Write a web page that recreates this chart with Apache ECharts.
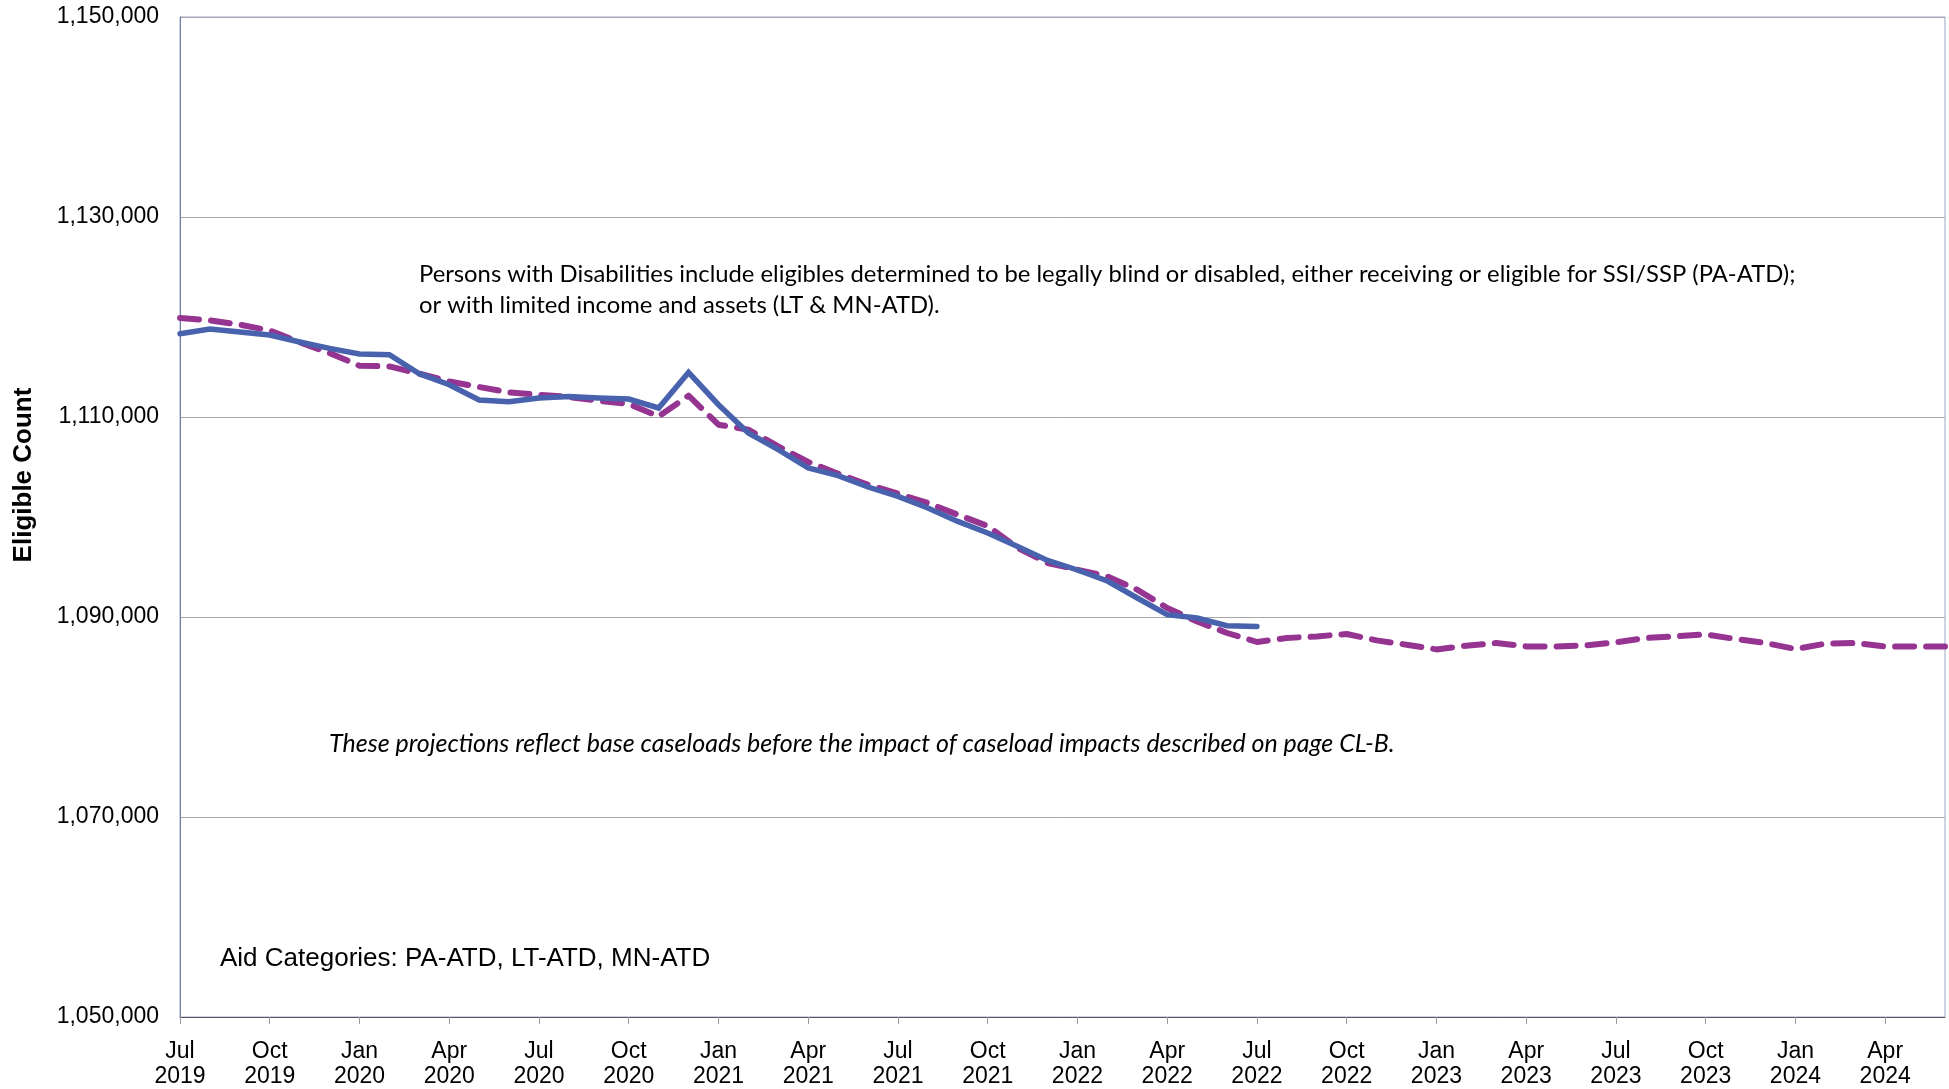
<!DOCTYPE html>
<html>
<head>
<meta charset="utf-8">
<title>Persons with Disabilities - Eligible Count</title>
<script src="https://cdn.jsdelivr.net/npm/echarts@6/dist/echarts.min.js"></script>
<style>
  html, body { margin: 0; padding: 0; background: #ffffff; }
  #chart { width: 1949px; height: 1089px; }
</style>
</head>
<body>
<div id="chart"></div>
<script>
// Monthly categories, Jul 2019 through Jun 2024
const months = [
  'Jul 2019','Aug 2019','Sep 2019','Oct 2019','Nov 2019','Dec 2019',
  'Jan 2020','Feb 2020','Mar 2020','Apr 2020','May 2020','Jun 2020',
  'Jul 2020','Aug 2020','Sep 2020','Oct 2020','Nov 2020','Dec 2020',
  'Jan 2021','Feb 2021','Mar 2021','Apr 2021','May 2021','Jun 2021',
  'Jul 2021','Aug 2021','Sep 2021','Oct 2021','Nov 2021','Dec 2021',
  'Jan 2022','Feb 2022','Mar 2022','Apr 2022','May 2022','Jun 2022',
  'Jul 2022','Aug 2022','Sep 2022','Oct 2022','Nov 2022','Dec 2022',
  'Jan 2023','Feb 2023','Mar 2023','Apr 2023','May 2023','Jun 2023',
  'Jul 2023','Aug 2023','Sep 2023','Oct 2023','Nov 2023','Dec 2023',
  'Jan 2024','Feb 2024','Mar 2024','Apr 2024','May 2024','Jun 2024'
];

// Actual eligibles, Jul 2019 - Jul 2022
const actual = [
  1118330, 1118800, 1118500, 1118200, 1117500, 1116860,
  1116300, 1116230, 1114330, 1113230, 1111700, 1111530,
  1111900, 1112060, 1111900, 1111800, 1110900, 1114460,
  1111230, 1108400, 1106730, 1104900, 1104130, 1103000,
  1102060, 1100900, 1099560, 1098400, 1097060, 1095660,
  1094700, 1093600, 1091900, 1090230, 1089900, 1089130,
  1089060
];

// Projected eligibles, Jul 2019 - Jun 2024
const projected = [
  1119900, 1119660, 1119230, 1118650, 1117460, 1116400,
  1115130, 1115060, 1114330, 1113560, 1113000, 1112460,
  1112230, 1112000, 1111630, 1111300, 1110060, 1112130,
  1109230, 1108730, 1107060, 1105500, 1104330, 1103230,
  1102330, 1101400, 1100230, 1099100, 1096900, 1095400,
  1094730, 1094060, 1092730, 1090900, 1089560, 1088400,
  1087500, 1087900, 1088060, 1088300, 1087660, 1087230,
  1086760, 1087130, 1087400, 1087060, 1087060, 1087160,
  1087460, 1087900, 1088060, 1088260, 1087800, 1087400,
  1086800, 1087330, 1087400, 1087060, 1087060, 1087060
];

// Value-axis tick positions
const yTicks = [1050000, 1070000, 1090000, 1110000, 1130000, 1150000];

const noteLines = [
  'Persons with Disabilities include eligibles determined to be legally blind or disabled, either receiving or eligible for SSI/SSP (PA-ATD);',
  'or with limited income and assets (LT & MN-ATD).'
];
const projectionNote = 'These projections reflect base caseloads before the impact of caseload impacts described on page CL-B.';
const aidCategories = 'Aid Categories: PA-ATD, LT-ATD, MN-ATD';
const yAxisTitle = 'Eligible Count';

const chart = echarts.init(document.getElementById('chart'), null, { renderer: 'canvas' });

const axisFont = '"Liberation Sans", Arial, sans-serif';

chart.setOption({
  animation: false,
  backgroundColor: '#ffffff',
  grid: {
    left: 180, right: 4, top: 17, bottom: 72,
    show: true, borderColor: '#9aa8c6', borderWidth: 1
  },
  xAxis: {
    type: 'category',
    data: months,
    boundaryGap: false,
    axisLine: { lineStyle: { color: '#595959', width: 1 } },
    axisTick: { interval: 2, length: 7, lineStyle: { color: '#9a9a9a' } },
    axisLabel: {
      interval: 2,
      color: '#000000',
      fontFamily: axisFont,
      fontSize: 23,
      lineHeight: 25,
      margin: 22,
      formatter: v => v.replace(' ', '\n')
    },
    splitLine: { show: false }
  },
  yAxis: {
    type: 'value',
    min: 1050000,
    max: 1150000,
    axisLine: { show: true, lineStyle: { color: '#6d7fa6', width: 1 } },
    axisTick: { show: false, customValues: yTicks },
    axisLabel: {
      customValues: yTicks,
      color: '#000000',
      fontFamily: axisFont,
      fontSize: 23,
      margin: 21,
      formatter: v => v.toLocaleString('en-US')
    },
    splitLine: { show: true, lineStyle: { color: '#a6a6a6', width: 1 } }
  },
  series: [
    {
      name: 'Projected',
      type: 'line',
      data: projected,
      showSymbol: false,
      symbol: 'none',
      z: 2,
      lineStyle: {
        color: '#963591',
        width: 6,
        type: [19, 12],
        cap: 'round',
        join: 'round'
      }
    },
    {
      name: 'Actual',
      type: 'line',
      data: actual,
      showSymbol: false,
      symbol: 'none',
      z: 3,
      lineStyle: {
        color: '#4862ae',
        width: 5.5,
        cap: 'round',
        join: 'miter'
      }
    }
  ],
  graphic: [
    {
      type: 'text',
      left: 419, top: 259,
      style: {
        text: noteLines.join('\n'),
        font: '23.8px Lato, "Open Sans", sans-serif',
        lineHeight: 31,
        fill: '#000000'
      }
    },
    {
      type: 'text',
      left: 329, top: 729,
      style: {
        text: projectionNote,
        font: 'italic 25px Lato, "Open Sans", sans-serif',
        lineHeight: 30,
        fill: '#000000'
      }
    },
    {
      type: 'text',
      left: 220, top: 944,
      style: {
        text: aidCategories,
        font: '26px "Liberation Sans", Arial, sans-serif',
        lineHeight: 30,
        fill: '#000000'
      }
    },
    {
      type: 'text',
      x: 24, y: 475,
      rotation: Math.PI / 2,
      style: {
        text: yAxisTitle,
        font: 'bold 26px "Liberation Sans", Arial, sans-serif',
        fill: '#000000',
        align: 'center',
        verticalAlign: 'middle'
      }
    }
  ]
});
</script>
</body>
</html>
